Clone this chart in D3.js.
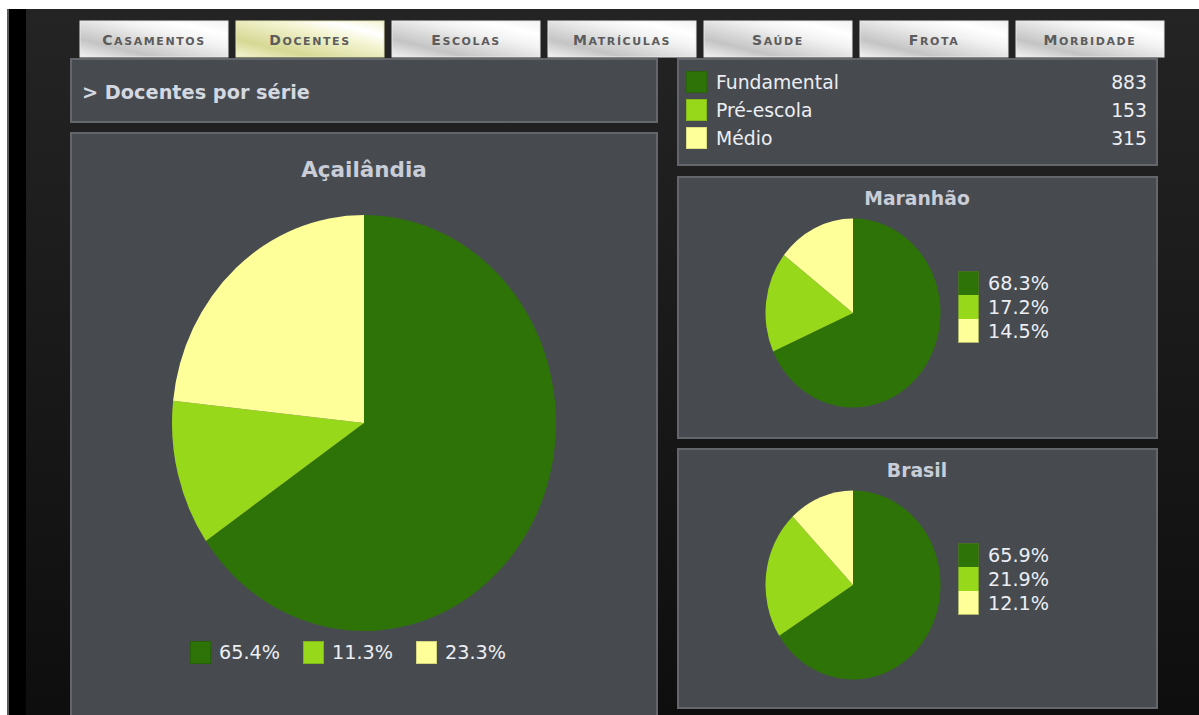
<!DOCTYPE html>
<html>
<head>
<meta charset="utf-8">
<script src="https://cdn.jsdelivr.net/npm/d3@7"></script>
<style>
  html, body { margin: 0; padding: 0; background: #ffffff; overflow: hidden; }
  svg { display: block; }
  text { font-family: "DejaVu Sans", Verdana, sans-serif; }
</style>
</head>
<body>
<svg id="chart" width="1199" height="715"></svg>
<script>
// Navigation tabs
const tabs = ["Casamentos", "Docentes", "Escolas", "Matrículas", "Saúde", "Frota", "Morbidade"];
const activeTab = "Docentes";

// Series and totals
const categories = ["Fundamental", "Pré-escola", "Médio"];
const colors = ["#2e7308", "#98d81a", "#ffff99"];
const counts = [883, 153, 315];

// Percent shares per region
const regions = ["Açailândia", "Maranhão", "Brasil"];
const shareAcailandia = [65.4, 11.3, 23.3];
const shareMaranhao = [68.3, 17.2, 14.5];
const shareBrasil = [65.9, 21.9, 12.1];

const svg = d3.select("#chart");
const defs = svg.append("defs");

// page background
const bg = defs.append("linearGradient").attr("id", "pageBg")
  .attr("x1", 0).attr("y1", 0).attr("x2", 0).attr("y2", 1);
bg.append("stop").attr("offset", 0).attr("stop-color", "#242424");
bg.append("stop").attr("offset", 1).attr("stop-color", "#0e0e0e");

svg.append("rect").attr("x", 0).attr("y", 0).attr("width", 1199).attr("height", 715).attr("fill", "#ffffff");
svg.append("rect").attr("x", 7).attr("y", 9).attr("width", 1192).attr("height", 706).attr("fill", "url(#pageBg)");
svg.append("rect").attr("x", 7).attr("y", 9).attr("width", 2).attr("height", 706).attr("fill", "#5a5a5a");
svg.append("rect").attr("x", 9).attr("y", 9).attr("width", 17).attr("height", 706).attr("fill", "#000000");

// tab gradients
function tabGradient(id, dark, light) {
  const g = defs.append("linearGradient").attr("id", id)
    .attr("x1", 0).attr("y1", 1).attr("x2", 1).attr("y2", 0);
  g.append("stop").attr("offset", 0).attr("stop-color", light);
  g.append("stop").attr("offset", 0.25).attr("stop-color", dark);
  g.append("stop").attr("offset", 0.62).attr("stop-color", light);
  g.append("stop").attr("offset", 0.8).attr("stop-color", "#ffffff");
  g.append("stop").attr("offset", 1).attr("stop-color", light);
}
tabGradient("tabBg", "#c4c4c4", "#f2f2f2");
tabGradient("tabActive", "#d6d894", "#f4f4d2");

const tabX = d3.scaleBand().domain(tabs).range([80, 1164]).paddingInner(0.0513).paddingOuter(0);
const tabG = svg.append("g").selectAll("g").data(tabs).join("g")
  .attr("transform", d => `translate(${tabX(d)},21)`);
tabG.append("rect")
  .attr("width", tabX.bandwidth()).attr("height", 36)
  .attr("fill", d => d === activeTab ? "url(#tabActive)" : "url(#tabBg)")
  .attr("stroke", d => d === activeTab ? "#e6e6b8" : "#e8e8e8").attr("stroke-width", 1);
const tabText = tabG.append("text")
  .attr("x", tabX.bandwidth() / 2).attr("y", 24)
  .attr("text-anchor", "middle").attr("fill", "#5c5c5c").attr("font-weight", "bold")
  .attr("letter-spacing", 1.6);
tabText.append("tspan").attr("font-size", 14).text(d => d.charAt(0).toUpperCase());
tabText.append("tspan").attr("font-size", 11).text(d => d.slice(1).toUpperCase());

// panels
function panel(x, y, w, h) {
  svg.append("rect").attr("x", x + 1).attr("y", y + 1).attr("width", w - 2).attr("height", h - 2)
    .attr("fill", "#474b4f").attr("stroke", "#63676b").attr("stroke-width", 2);
}
panel(70, 58, 588, 65);
panel(70, 132, 588, 600);
panel(677, 58, 481, 108);
panel(677, 176, 481, 263);
panel(677, 448, 481, 261);

svg.append("text").attr("x", 82).attr("y", 99)
  .attr("font-size", 19.3).attr("font-weight", "bold").attr("fill", "#d4d8e0")
  .text("> Docentes por série");

// count legend
const rowY = d3.scalePoint().domain(categories).range([82, 138]);
const legTop = svg.append("g").selectAll("g").data(categories).join("g")
  .attr("transform", d => `translate(0,${rowY(d)})`);
legTop.append("rect").attr("x", 686.5).attr("y", -10.5).attr("width", 20).attr("height", 21)
  .attr("fill", (d, i) => colors[i]).attr("stroke", (d, i) => d3.color(colors[i]).darker(0.4)).attr("stroke-width", 1);
legTop.append("text").attr("x", 716).attr("y", 7).attr("font-size", 18.8).attr("fill", "#eceef4").text(d => d);
legTop.append("text").attr("x", 1147).attr("y", 7).attr("font-size", 18.8).attr("fill", "#eceef4")
  .attr("text-anchor", "end").text((d, i) => counts[i]);

// pie drawing
const pie = d3.pie().sort(null).value(d => d.v);
function drawPie(cx, cy, rx, ry, shares) {
  const data = pie(shares.map((v, i) => ({ v, i })));
  const arc = d3.arc().innerRadius(0).outerRadius(ry);
  svg.append("g").attr("transform", `translate(${cx},${cy}) scale(${rx / ry},1)`)
    .selectAll("path").data(data).join("path")
    .attr("d", arc).attr("fill", d => colors[d.data.i]);
}

// main region
svg.append("text").attr("x", 364).attr("y", 177).attr("text-anchor", "middle")
  .attr("font-size", 21.5).attr("font-weight", "bold").attr("fill", "#c9cdd8").text(regions[0]);
drawPie(364, 423, 192, 208, shareAcailandia);
const bigLegX = d3.scaleOrdinal().domain([0, 1, 2]).range([190, 303, 416]);
const bigLeg = svg.append("g").selectAll("g").data(shareAcailandia).join("g")
  .attr("transform", (d, i) => `translate(${bigLegX(i)},641)`);
bigLeg.append("rect").attr("x", 0.5).attr("y", 0.5).attr("width", 20).attr("height", 22)
  .attr("fill", (d, i) => colors[i]).attr("stroke", (d, i) => d3.color(colors[i]).darker(0.5)).attr("stroke-width", 1);
bigLeg.append("text").attr("x", 29).attr("y", 18).attr("font-size", 19.2).attr("fill", "#eceef4")
  .text(d => d.toFixed(1) + "%");

// small regions
function smallRegion(name, shares, top, cy) {
  svg.append("text").attr("x", 917).attr("y", top + 29).attr("text-anchor", "middle")
    .attr("font-size", 18.8).attr("font-weight", "bold").attr("fill", "#c9cdd8").text(name);
  drawPie(853, cy, 87.5, 94.5, shares);
  const ly = d3.scaleBand().domain([0, 1, 2]).range([cy - 42, cy + 30]);
  const g = svg.append("g").selectAll("g").data(shares).join("g")
    .attr("transform", (d, i) => `translate(958,${ly(i)})`);
  g.append("rect").attr("width", 21).attr("height", ly.bandwidth())
    .attr("fill", (d, i) => colors[i]);
  svg.append("rect").attr("x", 958.5).attr("y", cy - 41.5).attr("width", 20).attr("height", 71)
    .attr("fill", "none").attr("stroke", "#5e6e3a").attr("stroke-opacity", 0.5);
  g.append("text").attr("x", 30).attr("y", 19).attr("font-size", 19.2).attr("fill", "#eceef4")
    .text(d => d.toFixed(1) + "%");
}
smallRegion(regions[1], shareMaranhao, 176, 313);
smallRegion(regions[2], shareBrasil, 448, 585);
</script>
</body>
</html>
